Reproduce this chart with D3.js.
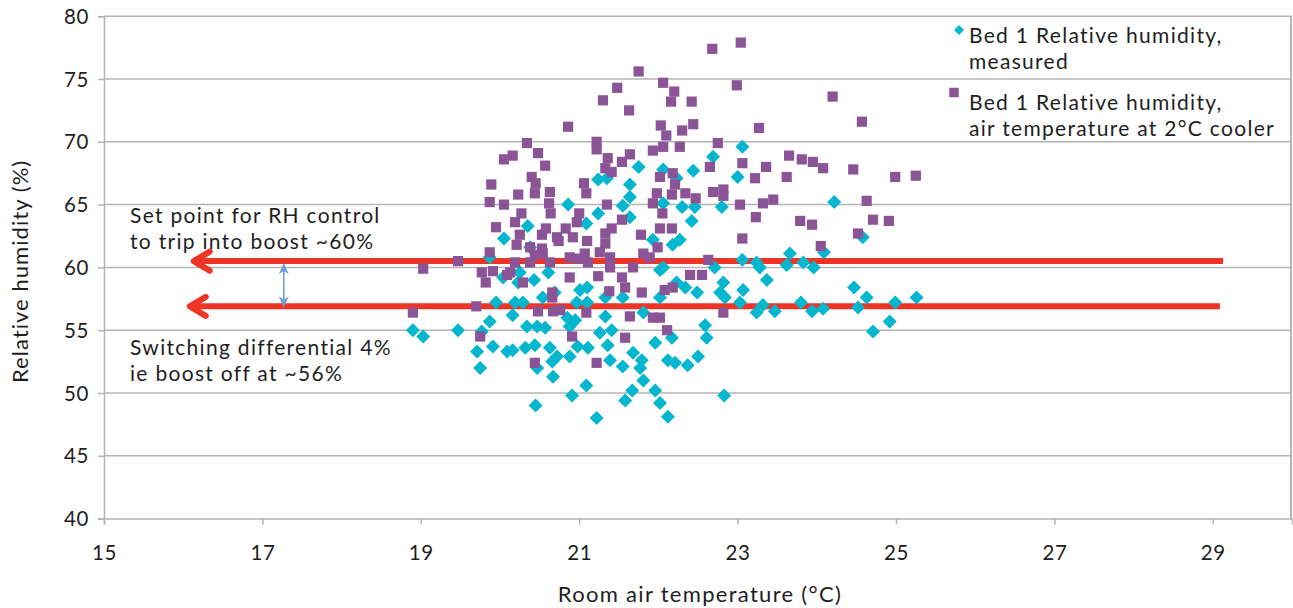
<!DOCTYPE html>
<html><head><meta charset="utf-8">
<script src="https://cdn.jsdelivr.net/npm/d3@7"></script>
<style>
html,body{margin:0;padding:0;background:#fff;}
svg{display:block;font-family:Lato,"Open Sans",sans-serif;}
</style></head><body>
<svg id="chart" width="1293" height="608"></svg>
<script>
// Bed 1 relative humidity, measured: room air temperature (°C) and RH (%)
const measuredTemp = [20.05,19.87,20.04,19.95,19.87,20.16,18.90,19.03,19.47,19.77,19.91,19.71,20.09,19.75,
  21.24,21.35,20.86,21.24,21.09,20.35,20.38,20.25,20.23,20.43,20.61,21.01,21.10,20.54,20.69,20.19,20.29,20.97,21.10,21.33,
  20.85,20.95,21.33,20.34,20.47,20.57,20.88,21.26,21.41,20.16,20.32,20.44,20.63,20.98,21.11,21.36,20.72,20.66,20.88,21.39,
  20.47,20.67,21.09,20.91,20.45,21.22,
  21.75,22.44,22.06,21.64,22.23,21.64,21.55,22.06,22.30,22.46,21.64,22.42,22.27,22.18,21.93,22.06,22.02,22.23,22.34,22.49,
  22.02,21.55,21.81,22.59,22.61,21.96,22.17,21.68,21.79,21.55,22.12,22.21,22.37,22.50,21.77,21.81,21.67,21.96,21.58,22.02,22.12,
  22.69,23.06,23.00,22.80,24.22,24.58,24.09,23.66,23.06,23.24,23.28,23.62,23.83,23.96,22.71,23.37,22.82,22.78,22.84,23.07,
  23.03,23.32,23.24,23.47,23.80,23.94,24.08,24.47,24.52,24.63,24.99,24.92,24.71,22.83,25.26];
const measuredRH = [62.3,60.8,59.2,57.2,55.7,56.2,55.0,54.5,55.0,54.9,53.7,53.3,53.3,52.0,
  67.0,67.1,65.0,64.3,63.5,63.3,61.6,59.6,58.8,59.0,59.6,58.2,58.4,57.6,58.0,57.2,57.2,57.2,57.2,57.6,
  56.0,55.8,56.1,55.3,55.3,55.2,55.3,54.8,55.0,53.4,53.6,53.8,53.6,53.7,53.6,53.8,52.9,52.5,52.9,52.6,
  52.0,51.3,50.6,49.8,49.0,48.0,
  68.0,67.7,67.8,66.6,67.1,65.6,64.9,65.1,64.8,64.8,64.0,63.7,62.2,61.8,62.2,60.0,59.8,58.8,58.4,58.0,
  57.6,57.6,56.4,55.4,54.4,54.0,54.4,53.2,52.6,52.1,52.6,52.4,52.2,52.9,52.0,51.0,50.2,50.2,49.4,49.2,48.1,
  68.8,69.6,67.2,64.8,65.2,62.4,61.2,61.1,60.6,60.4,60.0,60.2,60.4,60.0,60.0,59.0,58.8,58.0,57.6,58.2,
  57.2,57.0,56.4,56.5,57.2,56.5,56.7,58.4,56.8,57.6,57.2,55.7,54.9,49.8,57.6];

// Bed 1 relative humidity with the air temperature taken 2°C cooler
const coolerTemp = [20.16,20.05,19.89,19.87,20.05,20.23,19.95,20.19,19.87,19.47,19.03,19.77,19.91,19.82,20.09,20.19,19.70,18.90,19.75,
  21.30,20.86,21.22,21.22,20.34,20.48,21.36,20.57,21.33,21.41,20.40,20.45,20.44,21.06,21.09,20.63,20.62,21.35,20.64,20.27,21.00,
  20.97,20.58,20.83,21.41,21.33,20.25,20.21,20.53,20.72,20.74,20.92,21.10,21.33,20.38,20.53,20.54,20.44,20.88,21.07,20.98,
  21.11,21.26,21.39,20.63,20.38,21.39,20.13,20.29,20.88,21.24,20.66,20.66,21.38,20.48,20.67,20.76,21.09,20.91,20.44,21.22,
  22.68,21.75,21.48,22.06,22.20,22.16,22.42,21.63,22.03,22.44,22.30,22.10,22.75,21.93,22.06,22.27,21.64,21.54,22.65,22.02,
  22.18,22.21,21.98,22.17,22.34,22.47,22.69,21.93,22.05,21.54,22.02,22.17,21.78,21.99,21.89,21.81,21.68,22.63,22.40,22.55,
  21.54,21.58,21.79,22.08,22.18,21.64,21.93,22.02,22.11,21.58,
  23.04,22.99,24.20,24.57,23.27,23.65,23.81,23.95,24.08,24.46,24.99,23.06,23.36,23.22,23.62,22.82,22.82,23.03,23.32,23.45,
  23.23,24.63,23.79,23.94,24.71,24.91,23.06,24.52,24.05,22.82,25.25];
const coolerRH = [68.9,68.6,66.6,65.2,65.0,65.8,63.2,63.6,61.2,60.5,59.9,59.6,59.7,58.8,59.4,60.4,56.9,56.4,54.5,
  73.3,71.2,70.0,69.4,69.9,69.1,68.7,68.1,67.9,67.6,67.2,66.7,65.9,66.7,65.9,66.0,65.1,65.0,64.3,64.3,64.3,
  63.6,63.1,63.1,63.1,62.7,62.6,61.8,62.6,62.4,62.1,62.4,62.1,61.9,61.6,61.5,61.1,61.0,60.8,61.1,60.7,
  60.4,61.2,60.8,60.4,60.4,60.0,59.6,58.8,59.2,59.3,58.0,57.6,58.1,56.5,56.5,56.6,56.4,54.5,52.4,52.4,
  77.4,75.6,74.3,74.7,74.0,73.2,73.2,72.5,71.3,71.4,70.9,70.5,69.9,69.3,69.6,69.6,69.0,68.4,68.0,67.2,
  67.5,66.6,65.9,65.8,65.9,65.5,66.0,65.1,64.3,63.8,63.1,63.1,62.6,61.6,60.8,61.1,60.0,60.6,59.4,59.4,
  59.2,58.4,58.0,58.2,58.4,56.1,56.0,56.0,55.0,54.4,
  77.9,74.5,73.6,71.6,71.1,68.9,68.6,68.4,67.9,67.8,67.2,68.3,68.0,67.1,67.2,66.2,65.7,65.0,65.1,65.4,
  64.0,65.3,63.7,63.4,63.8,63.7,62.3,62.7,61.7,56.4,67.3];

const xTicks = [15,17,19,21,23,25,27,29];
const yTicks = [40,45,50,55,60,65,70,75,80];
const seriesNames = [["Bed 1 Relative humidity,", "measured"], ["Bed 1 Relative humidity,", "air temperature at 2°C cooler"]];

// Boost control thresholds drawn as arrows (RH %), with their temperature extents
const thresholdRH = [60.5, 56.9];
const thresholdFrom = [29.13, 29.09];
const thresholdTo = [16.12, 16.07];
// Switching differential marker
const diffTemp = [17.27];
const diffRH = [60.35, 56.8];

const noteTop = ["Set point for RH control", "to trip into boost ~60%"];
const noteBottom = ["Switching differential 4%", "ie boost off at ~56%"];

const plot = {left: 104, right: 1292, top: 16.2, bottom: 518.6};
const svg = d3.select("#chart");
const x = d3.scaleLinear().domain([15, 30]).range([plot.left, plot.right]);
const y = d3.scaleLinear().domain([40, 80]).range([plot.bottom, plot.top]);

const gridColor = "#b4b4b4", textColor = "#1e1e1e";
const cyan = "#05b6cf", purple = "#8b5496", red = "#ee3424", blue = "#6d9fd3";

// horizontal gridlines
svg.append("g").selectAll("line").data(yTicks.filter(v => v > 40)).join("line")
  .attr("x1", plot.left).attr("x2", plot.right)
  .attr("y1", d => y(d)).attr("y2", d => y(d))
  .attr("stroke", gridColor).attr("stroke-width", 1.5);
// right border of the plot area
svg.append("line").attr("x1", plot.right - 1).attr("x2", plot.right - 1)
  .attr("y1", plot.top).attr("y2", plot.bottom)
  .attr("stroke", gridColor).attr("stroke-width", 2);

// axes
const xAxis = svg.append("g").attr("transform", `translate(0,${plot.bottom})`)
  .call(d3.axisBottom(x).tickValues(xTicks).tickSize(6).tickPadding(21).tickFormat(d3.format("d")));
const yAxis = svg.append("g").attr("transform", `translate(${plot.left},0)`)
  .call(d3.axisLeft(y).tickValues(yTicks).tickSize(6).tickPadding(9).tickFormat(d3.format("d")));
[xAxis, yAxis].forEach(g => {
  g.select(".domain").attr("stroke", gridColor).attr("stroke-width", 1.5);
  g.selectAll(".tick line").attr("stroke", gridColor).attr("stroke-width", 1.5);
  g.selectAll(".tick text").attr("fill", textColor).attr("font-size", 20.5)
    .attr("letter-spacing", 0.6).attr("font-family", "Lato");
});
yAxis.selectAll(".tick text").attr("dy", "0.35em");

svg.append("text").attr("x", (plot.left + plot.right) / 2 + 2).attr("y", 602)
  .attr("text-anchor", "middle").attr("font-size", 22).attr("letter-spacing", 1.3).attr("fill", textColor)
  .text("Room air temperature (°C)");
svg.append("text").attr("transform", `translate(28,${(plot.top + plot.bottom) / 2 + 4}) rotate(-90)`)
  .attr("text-anchor", "middle").attr("font-size", 22).attr("letter-spacing", 1.05).attr("fill", textColor)
  .text("Relative humidity (%)");

// threshold arrows (boost on / boost off)
const arrows = svg.append("g");
thresholdRH.forEach((rh, i) => {
  const tipX = x(thresholdTo[i]), yy = y(rh);
  arrows.append("line").attr("x1", x(thresholdFrom[i])).attr("x2", tipX + 2)
    .attr("y1", yy).attr("y2", yy).attr("stroke", red).attr("stroke-width", 6);
  arrows.append("path")
    .attr("d", `M${tipX + 17},${yy - 9.5} L${tipX + 1},${yy} L${tipX + 17},${yy + 9.5}`)
    .attr("fill", "none").attr("stroke", red).attr("stroke-width", 6)
    .attr("stroke-linecap", "round").attr("stroke-linejoin", "round");
});

// measured series (diamonds) and cooler series (squares)
const measured = measuredTemp.map((t, i) => ({t, rh: measuredRH[i]}));
const cooler = coolerTemp.map((t, i) => ({t, rh: coolerRH[i]}));
const diamond = d3.symbol(d3.symbolSquare, 98);
const square = d3.symbol(d3.symbolSquare, 104);
svg.append("g").selectAll("path").data(measured).join("path")
  .attr("d", diamond)
  .attr("transform", d => `translate(${x(d.t)},${y(d.rh)}) rotate(45)`)
  .attr("fill", cyan);
svg.append("g").selectAll("path").data(cooler).join("path")
  .attr("d", square)
  .attr("transform", d => `translate(${x(d.t)},${y(d.rh)})`)
  .attr("fill", purple);

// switching differential: double-headed arrow
const dx = x(diffTemp[0]), dTop = y(diffRH[0]), dBot = y(diffRH[1]);
svg.append("line").attr("x1", dx).attr("x2", dx).attr("y1", dTop + 6).attr("y2", dBot - 6)
  .attr("stroke", blue).attr("stroke-width", 1.6);
const head = (tipY, dir) => `M${dx},${tipY} L${dx - 5},${tipY + dir * 11} L${dx},${tipY + dir * 8} L${dx + 5},${tipY + dir * 11} Z`;
svg.append("path").attr("d", head(dTop, 1)).attr("fill", blue);
svg.append("path").attr("d", head(dBot, -1)).attr("fill", blue);

// multi-line text block drawn as one text element with tspans
function textBlock(parent, lines, x0, y0, lineGap) {
  const t = parent.append("text").attr("x", x0).attr("y", y0);
  lines.forEach((line, j) => t.append("tspan").attr("x", x0).attr("y", y0 + j * lineGap).text(line));
  return t;
}

// notes
const notes = svg.append("g").attr("font-size", 21).attr("letter-spacing", 1.3).attr("fill", textColor);
textBlock(notes, noteTop, 130, 223, 25.6);
textBlock(notes, noteBottom, 130, 355, 25.6);

// legend
const legend = svg.append("g").attr("font-size", 21).attr("letter-spacing", 1.3).attr("fill", textColor);
const legendY = [42.5, 110];
seriesNames.forEach((lines, i) => textBlock(legend, lines, 969, legendY[i], 26));
legend.append("path").attr("d", d3.symbol(d3.symbolSquare, 50))
  .attr("transform", "translate(959,30) rotate(45)").attr("fill", cyan);
legend.append("path").attr("d", d3.symbol(d3.symbolSquare, 90))
  .attr("transform", "translate(954,92.5)").attr("fill", purple);
</script>
</body></html>
